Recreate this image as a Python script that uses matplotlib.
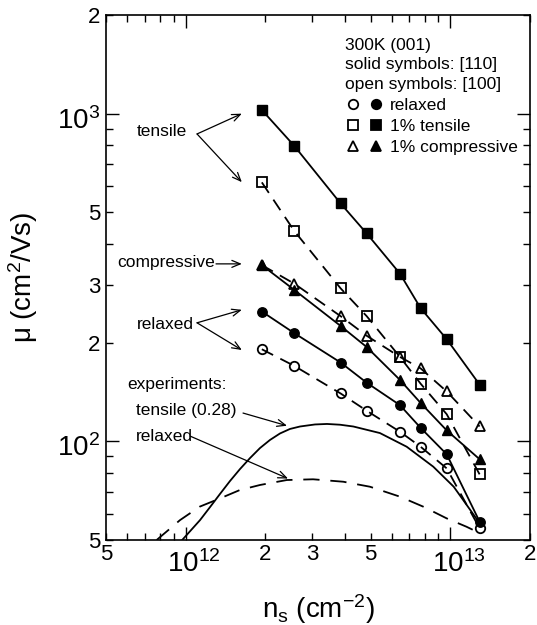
import matplotlib
matplotlib.use("Agg")
import matplotlib.pyplot as plt
import numpy as np
from matplotlib.lines import Line2D
from matplotlib.legend_handler import HandlerTuple
from matplotlib.ticker import FixedLocator, FuncFormatter
from matplotlib.transforms import ScaledTranslation

plt.rcParams["font.family"] = ["Liberation Sans", "DejaVu Sans"]
plt.rcParams["mathtext.fontset"] = "custom"
plt.rcParams["mathtext.rm"] = "Liberation Sans"
plt.rcParams["mathtext.it"] = "Liberation Sans:italic"
plt.rcParams["mathtext.default"] = "regular"

# sheet density (cm^-2) of the simulated points
ns = np.array([1.94, 2.57, 3.85, 4.83, 6.45, 7.72, 9.69, 12.9]) * 1e12

# mobility (cm^2/Vs): solid = [110], open = [100]
tensile_110 = [1026, 798, 532, 431, 325, 255, 205, 149]
tensile_100 = [617, 439, 293, 241, 181, 150, 121, 79.3]
compr_110 = [345, 290, 225, 194, 154, 131, 108, 88.2]
compr_100 = [345, 303, 241, 210, 181, 167, 142, 111]
relaxed_110 = [249, 214, 174, 151, 129, 110, 91.3, 56.9]
relaxed_100 = [191, 170, 140, 124, 107, 96.3, 82.7, 54.3]

# measured curves
exp_tens_ns = np.array([0.97, 1.133, 1.236, 1.348, 1.471, 1.604, 1.75, 1.909, 2.083,
                        2.272, 2.478, 2.704, 3.08, 3.42, 3.83, 4.30,
                        5.42, 6.84, 8.62, 10.3, 11.9, 12.9]) * 1e12
exp_tens_mu = [50.0, 57.5, 63.0, 69.1, 75.7, 82.3, 88.9, 95.4, 101.0,
               105.7, 109.1, 111.0, 112.6, 113.0, 112.4, 111,
               106, 96.3, 83.7, 72.7, 61.7, 56.3]
exp_rel_ns = np.array([0.777, 0.952, 1.13, 1.35, 1.60, 1.91, 2.41, 3.03, 3.94, 4.97,
                       6.45, 7.90, 9.69, 11.5, 12.9]) * 1e12
exp_rel_mu = [50.0, 57.5, 63.2, 67.0, 71.0, 73.6, 76.2, 76.6, 75.3, 72.7,
              67.8, 63.2, 58.2, 54.9, 52.5]

fig = plt.figure(figsize=(5.37, 6.25), dpi=100)
ax = fig.add_axes([106 / 537, 1 - 540 / 625, 424 / 537, 525 / 625])
ax.set_xscale("log")
ax.set_yscale("log")
ax.set_xlim(5e11, 2e13)
ax.set_ylim(50, 2000)

lw = 1.3
dash = (0, (7, 4.5))

def series(y, marker, filled, size):
    if filled:
        ax.plot(ns, y, color="black", lw=lw, ls="-", marker=marker, ms=size,
                mfc="black", mec="black", zorder=4)
    else:
        ax.plot(ns, y, color="black", lw=lw, ls=dash, marker=marker, ms=size,
                mfc="none", mec="black", mew=1.3, zorder=3)

series(tensile_100, "s", False, 6.8)
series(compr_100, "^", False, 7.5)
series(relaxed_100, "o", False, 6.8)
series(tensile_110, "s", True, 6.8)
series(compr_110, "^", True, 7.5)
series(relaxed_110, "o", True, 6.8)

ax.plot(exp_tens_ns, exp_tens_mu, color="black", lw=lw, ls="-")
ax.plot(exp_rel_ns, exp_rel_mu, color="black", lw=lw, ls=(0, (9, 6)))

# ticks: decades long, the rest short; 2, 3, 5 labelled
ax.xaxis.set_major_locator(FixedLocator([1e12, 1e13]))
ax.xaxis.set_major_formatter(FuncFormatter(lambda v, p: r"$10^{%d}$" % round(np.log10(v))))
xminor = [m * 1e11 for m in range(5, 10)] + [m * 1e12 for m in range(2, 10)] + [2e13]
ax.xaxis.set_minor_locator(FixedLocator(xminor))
ax.yaxis.set_major_locator(FixedLocator([100, 1000]))
ax.yaxis.set_major_formatter(FuncFormatter(lambda v, p: r"$10^{%d}$" % round(np.log10(v))))
yminor = [m * 10 for m in range(5, 10)] + [m * 100 for m in range(2, 10)] + [2000]
ax.yaxis.set_minor_locator(FixedLocator(yminor))

def mantissa(v, p):
    m = int(round(v / 10 ** np.floor(np.log10(v) + 1e-9)))
    return str(m) if m in (2, 3, 5) else ""

ax.xaxis.set_minor_formatter(FuncFormatter(mantissa))
ax.yaxis.set_minor_formatter(FuncFormatter(mantissa))

ax.tick_params(which="both", direction="in", top=True, right=True, width=1.0, colors="black")
ax.tick_params(which="major", length=9.5, labelsize=20)
ax.tick_params(which="minor", length=5, labelsize=16)
ax.tick_params(axis="x", which="major", pad=7)
ax.tick_params(axis="x", which="minor", pad=3)
ax.tick_params(axis="y", which="both", pad=4)
for s in ax.spines.values():
    s.set_linewidth(1.2)

# decade labels sit a little off their tick
xshift = ScaledTranslation(6 / 72, 0, fig.dpi_scale_trans)
for lab in ax.xaxis.get_majorticklabels():
    lab.set_transform(lab.get_transform() + xshift)
yshift = ScaledTranslation(0, -3 / 72, fig.dpi_scale_trans)
for lab in ax.yaxis.get_majorticklabels():
    lab.set_transform(lab.get_transform() + yshift)

ax.set_xlabel(r"n$_s$ (cm$^{-2}$)", fontsize=20)
ax.set_ylabel(r"μ (cm$^2$/Vs)", fontsize=20)
ax.xaxis.set_label_coords(0.5, -0.100)
ax.yaxis.set_label_coords(-0.155, 0.5)

# annotations
fs = 12.5
arrow = dict(arrowstyle="->,head_length=0.6,head_width=0.25", color="black", lw=0.9,
             shrinkA=0, shrinkB=0)

def note(tail, tip):
    ax.annotate("", xy=tip, xytext=tail, arrowprops=arrow)

ax.text(6.55e11, 885, "tensile", fontsize=fs, va="center", ha="left")
note((1.104e12, 867), (1.63e12, 1000))
note((1.104e12, 867), (1.63e12, 618))
ax.text(5.50e11, 352, "compressive", fontsize=fs, va="center", ha="left")
note((1.302e12, 348), (1.63e12, 348))
ax.text(6.55e11, 228, "relaxed", fontsize=fs, va="center", ha="left")
note((1.104e12, 230), (1.63e12, 252))
note((1.104e12, 230), (1.63e12, 190))
ax.text(6.00e11, 149, "experiments:", fontsize=fs, va="center", ha="left")
ax.text(6.49e11, 124.6, "tensile (0.28)", fontsize=fs, va="center", ha="left")
note((1.647e12, 122), (2.415e12, 111.6))
ax.text(6.49e11, 103.3, "relaxed", fontsize=fs, va="center", ha="left")
note((1.038e12, 103.8), (2.436e12, 77.0))

# symbol key
def proxy(marker, filled, size):
    return Line2D([], [], ls="none", marker=marker, ms=size, mec="black",
                  mfc="black" if filled else "none", mew=1.3)

handles = [(proxy("o", False, 6.8), proxy("o", True, 6.8)),
           (proxy("s", False, 6.8), proxy("s", True, 6.8)),
           (proxy("^", False, 7.5), proxy("^", True, 7.5))]
labels = ["relaxed", "1% tensile", "1% compressive"]
leg = ax.legend(handles, labels, handler_map={tuple: HandlerTuple(ndivide=None, pad=0.4)},
                title="300K (001)\nsolid symbols: [110]\nopen symbols: [100]",
                alignment="left", frameon=False, loc="upper left",
                bbox_to_anchor=(0.5637, 0.957), fontsize=fs, title_fontsize=fs,
                handlelength=2.24, handletextpad=0.35, labelspacing=0.34,
                borderpad=0, borderaxespad=0)
leg.get_title().set_linespacing(1.38)

fig.savefig("out.png", dpi=100)
